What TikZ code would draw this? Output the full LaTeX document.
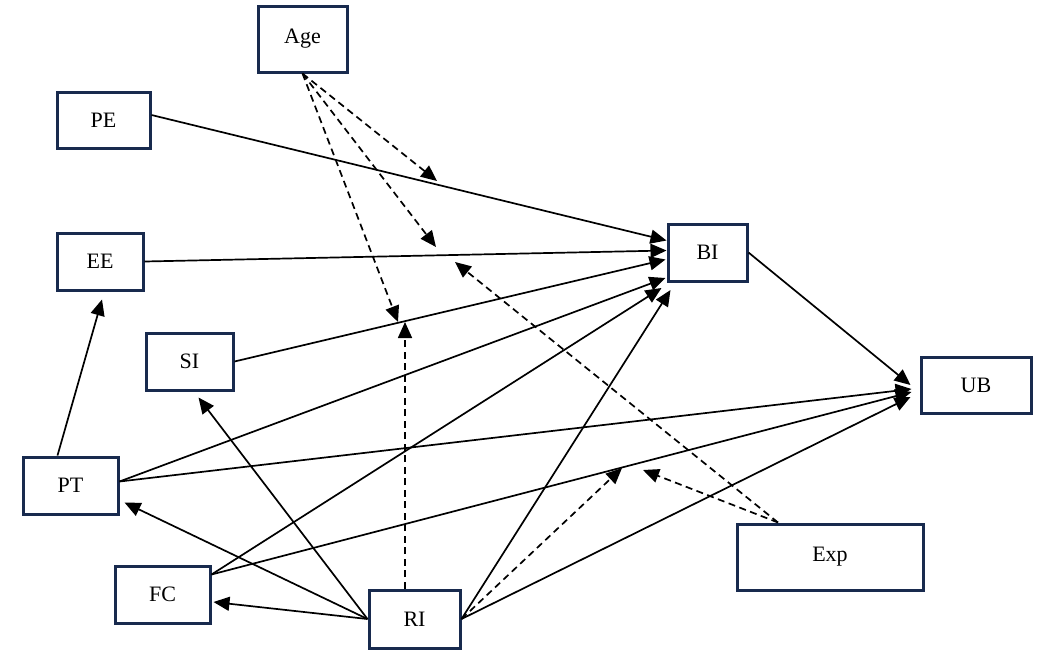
\documentclass[tikz,border=0pt]{standalone}
\usepackage{fontspec}
\setmainfont{Liberation Serif}
\usetikzlibrary{arrows.meta,calc}
\definecolor{boxnavy}{RGB}{24,42,78}
\tikzset{
  var/.style={draw=boxnavy, line width=3pt, fill=white, inner sep=0pt, font=\fontsize{22}{26}\selectfont},
  link/.style={line width=1.7pt, -{Triangle[length=16pt,width=14pt]}},
  modlink/.style={link, dash pattern=on 7pt off 4.5pt},
}
\newcommand{\lbl}[1]{\raisebox{-2pt}{#1}}
\begin{document}
\begin{tikzpicture}[x=1pt,y=-1pt]
\useasboundingbox (0,0) rectangle (1041,654);
% nodes
\node[var, minimum width=89pt, minimum height=66pt] (Age) at (302.5,39) {\lbl{Age}};
\node[var, minimum width=93pt, minimum height=56pt] (PE) at (103.5,120) {\lbl{PE}};
\node[var, minimum width=86pt, minimum height=57pt] (EE) at (100,261.5) {\lbl{EE}};
\node[var, minimum width=79pt, minimum height=57pt] (BI) at (707.5,252.5) {\lbl{BI}};
\node[var, minimum width=87pt, minimum height=57pt] (SI) at (189.5,361.5) {\lbl{SI}};
\node[var, minimum width=110pt, minimum height=56pt] (UB) at (976,385) {\lbl{UB}};
\node[var, minimum width=95pt, minimum height=57pt] (PT) at (70.5,485.5) {\lbl{PT}};
\node[var, minimum width=95pt, minimum height=57pt] (FC) at (162.5,594.5) {\lbl{FC}};
\node[var, minimum width=91pt, minimum height=58pt] (RI) at (414.5,619) {\lbl{RI}};
\node[var, minimum width=186pt, minimum height=66pt] (Exp) at (830,557) {\lbl{Exp}};
% free ends of moderating arrows
\coordinate (m1) at (437,181);
\coordinate (m2) at (436,247);
\coordinate (m3) at (398,322);
\coordinate (m4) at (405,322);
\coordinate (m5) at (455,262);
\coordinate (m6) at (643,470);
\coordinate (m7) at (622,468);
% solid links to BI
\draw[link] ($(PE.east)+(0,-5)$) -- ($(BI.west)+(0,-12)$);
\draw[link] (EE.east) -- ($(BI.west)+(0,-2)$);
\draw[link] (SI.east) -- ($(BI.west)+(-1,7)$);
\draw[link] ($(PT.east)+(0,-4)$) -- ($(BI.west)+(-1,25.5)$);
\draw[link] ($(FC.north east)+(0,10)$) -- ($(BI.west)+(-5,35.5)$);
\draw[link] (RI.east) -- ($(BI.west)+(4,37.5)$);
% links to UB
\draw[link] (BI.east) -- ($(UB.west)+(-9,0)$);
\draw[link] ($(PT.east)+(0,-4)$) -- ($(UB.west)+(-8,4)$);
\draw[link] ($(FC.north east)+(0,10)$) -- ($(UB.west)+(-8,7)$);
\draw[link] (RI.east) -- ($(UB.west)+(-9,12)$);
% from RI to the left
\draw[link] (RI.west) -- ($(FC.east)+(2,7.5)$);
\draw[link] (RI.west) -- ($(PT.east)+(5,17)$);
\draw[link] (RI.west) -- ($(SI.south)+(9,6)$);
% PT to EE
\draw[link] ($(PT.north)+(-13,0)$) -- ($(EE.south)+(2,8)$);
% moderators
\draw[modlink] (Age.south) -- (m1);
\draw[modlink] (Age.south) -- (m2);
\draw[modlink] (Age.south) -- (m3);
\draw[modlink] ($(RI.north)+(-9.5,0)$) -- (m4);
\draw[modlink] ($(Exp.north)+(-52,0)$) -- (m5);
\draw[modlink] ($(Exp.north)+(-52,0)$) -- (m6);
\draw[modlink] (RI.east) -- (m7);
\end{tikzpicture}
\end{document}
